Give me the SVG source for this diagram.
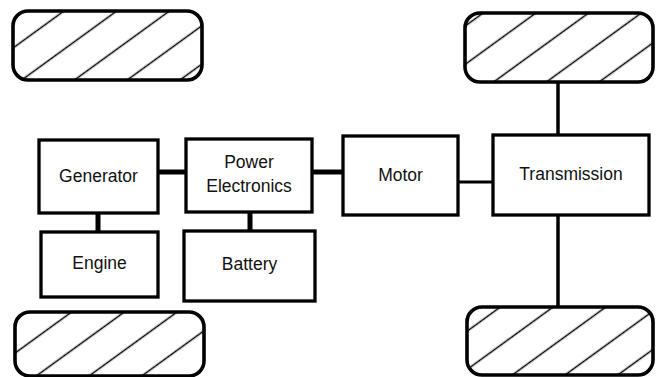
<svg xmlns="http://www.w3.org/2000/svg" width="657" height="377" viewBox="0 0 657 377">
<defs>
<pattern id="hatch" patternUnits="userSpaceOnUse" width="31" height="31" patternTransform="rotate(-36)">
<line x1="-2" y1="15.5" x2="33" y2="15.5" stroke="#000" stroke-width="1.5"/>
</pattern>
</defs>
<style>
.box{fill:#fff;stroke:#000;stroke-width:3.3}
.wheel{fill:url(#hatch);stroke:#000;stroke-width:3.6}
.lbl{font-family:"Liberation Sans",Arial,sans-serif;font-size:17.5px;fill:#111;text-anchor:middle}
.con{stroke:#000;fill:none}
</style>
<rect width="657" height="377" fill="#fff"/>
<g id="connectors">
<line class="con" x1="158" y1="172" x2="186" y2="172" stroke-width="5"/>
<line class="con" x1="98" y1="213" x2="98" y2="232" stroke-width="5"/>
<line class="con" x1="250" y1="212" x2="250" y2="231" stroke-width="5"/>
<line class="con" x1="312" y1="172" x2="343" y2="172" stroke-width="5"/>
<line class="con" x1="458" y1="182" x2="493" y2="182" stroke-width="3"/>
<line class="con" x1="558" y1="82" x2="558" y2="135" stroke-width="3.5"/>
<line class="con" x1="558" y1="215" x2="558" y2="307" stroke-width="3.5"/>
</g>
<g id="wheel-top-left"><rect class="wheel" x="13" y="11" width="189" height="69" rx="15"/></g>
<g id="wheel-top-right"><rect class="wheel" x="465" y="13" width="188" height="69" rx="15"/></g>
<g id="wheel-bottom-left"><rect class="wheel" x="15" y="312" width="189" height="64" rx="15"/></g>
<g id="wheel-bottom-right"><rect class="wheel" x="467" y="307" width="186" height="68" rx="15"/></g>
<g id="generator"><rect class="box" x="39" y="140" width="119" height="73"/><text class="lbl" x="98.5" y="182">Generator</text></g>
<g id="power-electronics"><rect class="box" x="186" y="139" width="126" height="73"/><text class="lbl" x="249" y="168">Power</text><text class="lbl" x="249" y="192">Electronics</text></g>
<g id="engine"><rect class="box" x="41" y="232" width="117" height="65"/><text class="lbl" x="99.5" y="269">Engine</text></g>
<g id="battery"><rect class="box" x="184" y="231" width="131" height="70"/><text class="lbl" x="249.5" y="270">Battery</text></g>
<g id="motor"><rect class="box" x="343" y="136" width="115" height="79"/><text class="lbl" x="400.5" y="181">Motor</text></g>
<g id="transmission"><rect class="box" x="493" y="135" width="156" height="80"/><text class="lbl" x="571" y="180">Transmission</text></g>
</svg>
